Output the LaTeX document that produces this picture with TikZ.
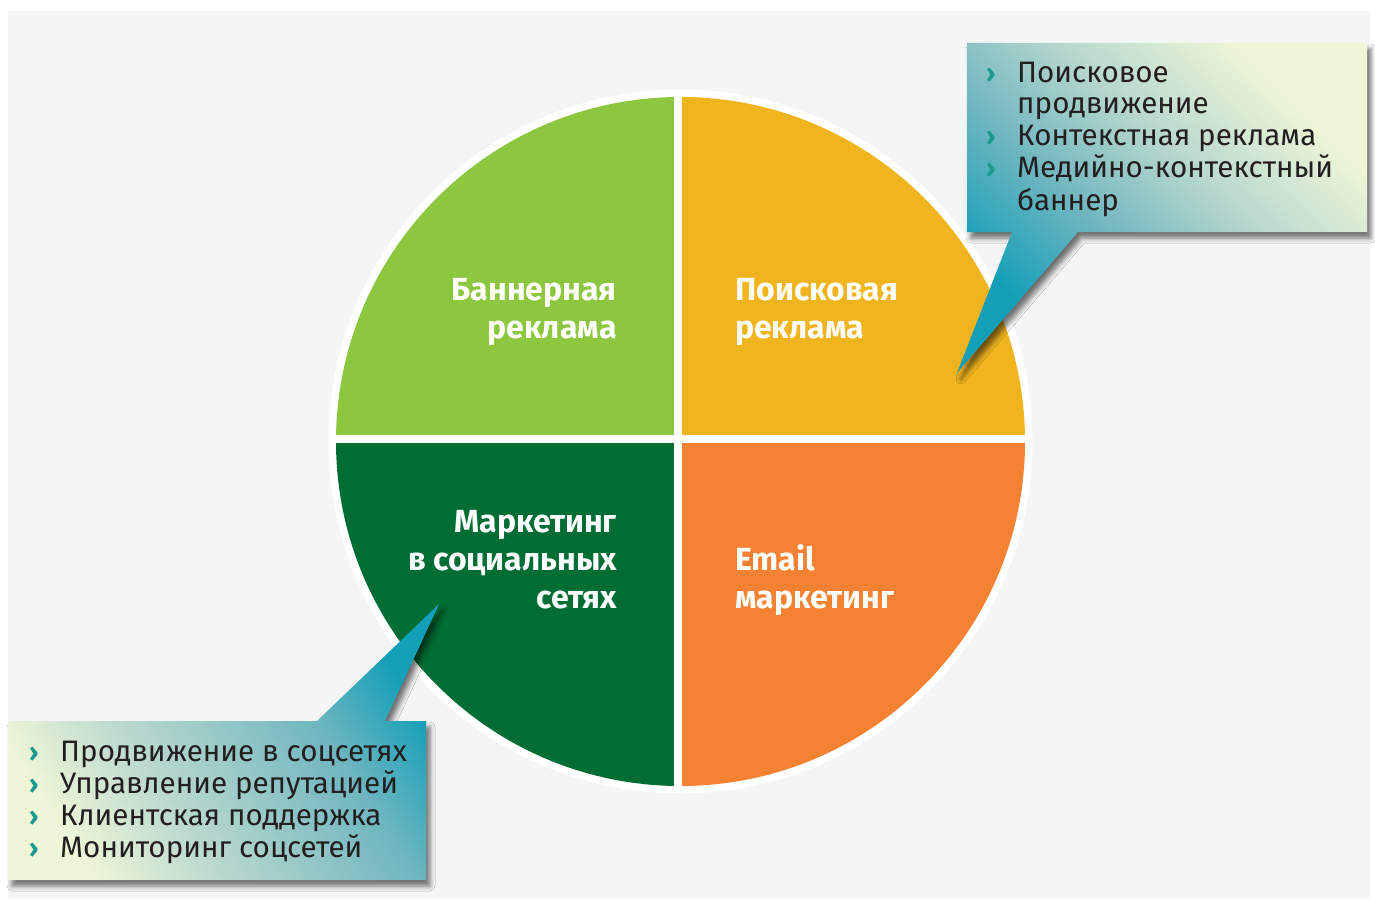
\documentclass[tikz,border=0pt]{standalone}
\usepackage{fontspec}
\setmainfont{Fira Sans}
\usetikzlibrary{shadows.blur}
\definecolor{bgc}{HTML}{F4F6F5}
\definecolor{qg}{HTML}{8DC63F}
\definecolor{qy}{HTML}{F0B41E}
\definecolor{qd}{HTML}{006D34}
\definecolor{qo}{HTML}{F58233}
\definecolor{ctip}{HTML}{139FB8}
\definecolor{cmid}{HTML}{6FB6C0}
\definecolor{clight}{HTML}{B9D8CD}
\definecolor{cpale}{HTML}{EEF6D8}
\definecolor{txt}{HTML}{231F20}
\definecolor{bulc}{HTML}{1A9A8C}
\pgfdeclarehorizontalshading{calloutsh}{100bp}{color(0bp)=(ctip); color(27bp)=(ctip); color(42bp)=(cmid); color(57bp)=(clight); color(73bp)=(cpale); color(100bp)=(cpale)}
\pgfdeclarehorizontalshading{calloutshr}{100bp}{color(0bp)=(cpale); color(25bp)=(cpale); color(40bp)=(clight); color(62bp)=(cmid); color(75bp)=(ctip); color(100bp)=(ctip)}
\tikzset{
  calltext/.style={anchor=base west, inner sep=0pt, font=\fontsize{29.6}{32}\selectfont, text=txt},
  bul/.style={anchor=base west, inner sep=0pt, font=\fontsize{26}{32}\selectfont\bfseries, text=bulc},
  pielabR/.style={anchor=base east, inner sep=0pt, font=\fontsize{32}{38}\selectfont\bfseries, text=white},
  pielabL/.style={anchor=base west, inner sep=0pt, font=\fontsize{32}{38}\selectfont\bfseries, text=white},
  cshadow/.style={blur shadow={shadow xshift=4pt, shadow yshift=-6pt, shadow blur radius=5pt, shadow opacity=55}}
}
\begin{document}
\begin{tikzpicture}[x=1pt,y=-1pt]
\useasboundingbox (0,0) rectangle (1375,899);
\fill[white] (0,0) rectangle (1375,899);
\fill[bgc] (8,11) rectangle (1370,899);
% pie
\fill[white] (680.5,441.5) circle (352);
\begin{scope}
  \clip (680.5,441.5) circle (344.5);
  \fill[qg] (300,60) rectangle (674,435);
  \fill[qy] (682,60) rectangle (1060,435);
  \fill[qd] (300,443) rectangle (674,830);
  \fill[qo] (682,443) rectangle (1060,830);
\end{scope}
% pie labels
\node[pielabR] (b1) at (617,300) {Баннерная};
\node[pielabR] (b2) at (617,338) {реклама};
\node[pielabL] (p1) at (735,300) {Поисковая};
\node[pielabL] (p2) at (735,338) {реклама};
\node[pielabR] (m1) at (617,532) {Маркетинг};
\node[pielabR] (m2) at (617,570) {в социальных};
\node[pielabR] (m3) at (617,608) {сетях};
\node[pielabL] (e1) at (735,570) {Email};
\node[pielabL] (e2) at (735,608) {маркетинг};
% top-right callout
\path[cshadow, shading=calloutsh, shading angle=46]
  (967,43) -- (1367,43) -- (1367,232) -- (1078,232) -- (957,373) -- (1012,232) -- (967,232) -- cycle;
\node[bul] (tb1) at (986,82) {›};
\node[calltext] (tt1) at (1017,82) {Поисковое};
\node[calltext] (tt2) at (1017,113) {продвижение};
\node[bul] (tb2) at (986,145) {›};
\node[calltext] (tt3) at (1017,145) {Контекстная реклама};
\node[bul] (tb3) at (986,177) {›};
\node[calltext] (tt4) at (1017,177) {Медийно-контекстный};
\node[calltext] (tt5) at (1017,210) {баннер};
% bottom-left callout
\path[cshadow, shading=calloutshr, shading angle=33]
  (8,721) -- (317,721) -- (439,604) -- (385,721) -- (426,721) -- (426,880) -- (8,880) -- cycle;
\node[bul] (lb1) at (29,761) {›};
\node[calltext] (lt1) at (60,761) {Продвижение в соцсетях};
\node[bul] (lb2) at (29,793) {›};
\node[calltext] (lt2) at (60,793) {Управление репутацией};
\node[bul] (lb3) at (29,825) {›};
\node[calltext] (lt3) at (60,825) {Клиентская поддержка};
\node[bul] (lb4) at (29,857) {›};
\node[calltext] (lt4) at (60,857) {Мониторинг соцсетей};
\end{tikzpicture}
\end{document}
